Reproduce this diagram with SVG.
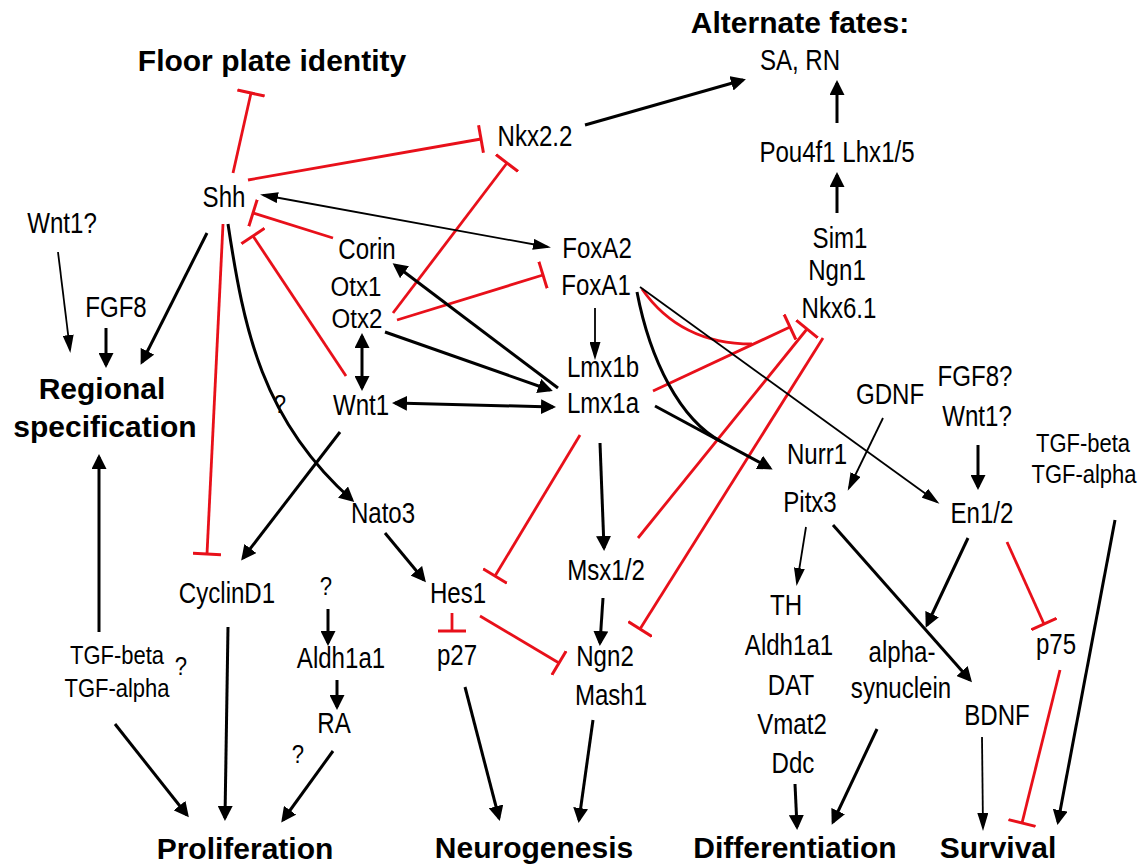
<svg xmlns="http://www.w3.org/2000/svg" width="1143" height="865" viewBox="0 0 1143 865">
<defs>
<style>
.t{font-family:"Liberation Sans",Arial,sans-serif;font-size:29.5px;text-anchor:middle;fill:#000}
.s{font-size:26px}
.o{font-size:28px}
.b{font-family:"Liberation Sans",Arial,sans-serif;font-size:30px;font-weight:bold;text-anchor:middle;fill:#000}
.k{fill:none;stroke:#000;stroke-width:3;marker-end:url(#ah)}
.kd{marker-start:url(#ah)}
.kn{fill:none;stroke:#000;stroke-width:3}
.n{fill:none;stroke:#000;stroke-width:1.8;marker-end:url(#as)}
.nd{marker-start:url(#as)}
.r{fill:none;stroke:#e8101a;stroke-width:2.8;marker-end:url(#tb)}
.rn{fill:none;stroke:#e8101a;stroke-width:2.8}
</style>
<marker id="ah" viewBox="0 0 15 15" refX="12" refY="7.5" markerWidth="15" markerHeight="15" markerUnits="userSpaceOnUse" orient="auto-start-reverse"><path d="M0,0 L15,7.5 L0,15 Z" fill="#000"/></marker>
<marker id="as" viewBox="0 0 18 11" refX="15" refY="5.5" markerWidth="18" markerHeight="11" markerUnits="userSpaceOnUse" orient="auto-start-reverse"><path d="M0,0 L18,5.5 L0,11 Z" fill="#000"/></marker>
<marker id="tb" viewBox="0 0 4 28" refX="2" refY="14" markerWidth="4" markerHeight="28" markerUnits="userSpaceOnUse" orient="auto"><path d="M2,0 V28" stroke="#e8101a" stroke-width="3"/></marker>
</defs>
<rect width="1143" height="865" fill="#fff"/>
<g id="connectors">
<path class="r" d="M233,173 L251,93"/>
<path class="r" d="M248,180 L481,139"/>
<path class="r" d="M333,238 L253,213"/>
<path class="r" d="M346,376 L253,236"/>
<path class="r" d="M223,224 L207,554"/>
<path class="r" d="M393,313 L507,163"/>
<path class="r" d="M397,320 L543,275"/>
<path class="r" d="M580,435 L495,576"/>
<path class="r" d="M653,391 L790,327"/>
<path class="rn" d="M642,289 C665,322 700,344 752,344"/>
<path class="r" d="M638,538 L807,329"/>
<path class="r" d="M823,338 L640,629"/>
<path class="r" d="M452,613 L452,631"/>
<path class="r" d="M480,616 L559,663"/>
<path class="r" d="M1007,542 L1044,624"/>
<path class="r" d="M1060,670 L1022,823"/>
<path class="k" d="M207,233 L142,362"/>
<path class="k" d="M228,224 C244,330 262,420 352,500"/>
<path class="k" d="M340,432 L243,558"/>
<path class="k kd" d="M362,336 L362,388"/>
<path class="k kd" d="M395,403 L553,407"/>
<path class="k" d="M385,332 L550,390"/>
<path class="k" d="M558,388 L395,265"/>
<path class="k" d="M600,443 L604,548"/>
<path class="kn" d="M637,292 C650,360 680,420 722,442"/>
<path class="k" d="M655,406 L770,468"/>
<path class="k" d="M585,125 L743,80"/>
<path class="k" d="M837,123 L837,83"/>
<path class="k" d="M837,213 L837,175"/>
<path class="k" d="M978,445 L978,487"/>
<path class="k" d="M1115,520 L1058,822"/>
<path class="k" d="M968,538 L927,625"/>
<path class="k" d="M833,525 L970,680"/>
<path class="k" d="M795,784 L797,827"/>
<path class="k" d="M877,729 L833,822"/>
<path class="k" d="M603,598 L600,643"/>
<path class="k" d="M593,720 L579,820"/>
<path class="k" d="M465,687 L499,818"/>
<path class="k" d="M385,533 L424,580"/>
<path class="k" d="M228,627 L225,818"/>
<path class="k" d="M115,724 L187,815"/>
<path class="k" d="M333,751 L283,820"/>
<path class="k" d="M328,609 L328,643"/>
<path class="k" d="M337,680 L337,707"/>
<path class="k" d="M99,632 L99,457"/>
<path class="k" d="M106,328 L106,365"/>
<path class="n nd" d="M263,195 L548,247"/>
<path class="n" d="M595,308 L595,357"/>
<path class="n" d="M640,287 L937,502"/>
<path class="n" d="M883,418 L849,488"/>
<path class="n" d="M806,527 L797,583"/>
<path class="n" d="M982,737 L983,828"/>
<path class="n" d="M58,252 L70,350"/>
</g>
<g id="floor-plate"><text class="b" x="272" y="71">Floor plate identity</text></g>
<g id="alternate-fates"><text class="b" x="800" y="33">Alternate fates:</text></g>
<g id="regional"><text class="b" x="102" y="399">Regional</text><text class="b" x="105" y="437">specification</text></g>
<g id="proliferation"><text class="b" x="245" y="859">Proliferation</text></g>
<g id="neurogenesis"><text class="b" x="534" y="858">Neurogenesis</text></g>
<g id="differentiation"><text class="b" x="795" y="858">Differentiation</text></g>
<g id="survival"><text class="b" x="998" y="858">Survival</text></g>
<g id="shh"><text class="t" transform="translate(224,207) scale(.816,1)">Shh</text></g>
<g id="wnt1q-left"><text class="t" transform="translate(62,233) scale(.816,1)">Wnt1?</text></g>
<g id="corin"><text class="t" transform="translate(367,259) scale(.816,1)">Corin</text></g>
<g id="otx"><text class="t o" transform="translate(356,296) scale(.86,1)">Otx1</text><text class="t o" transform="translate(357,328) scale(.86,1)">Otx2</text></g>
<g id="fgf8"><text class="t" transform="translate(116,317) scale(.816,1)">FGF8</text></g>
<g id="wnt1"><text class="t" transform="translate(361,415) scale(.816,1)">Wnt1</text></g>
<g id="q1"><text class="t s" transform="translate(280,413) scale(.85,1)">?</text></g>
<g id="nato3"><text class="t" transform="translate(383,523) scale(.816,1)">Nato3</text></g>
<g id="cyclind1"><text class="t" transform="translate(227,603) scale(.816,1)">CyclinD1</text></g>
<g id="q2"><text class="t s" transform="translate(326,595) scale(.85,1)">?</text></g>
<g id="aldh1a1-left"><text class="t" transform="translate(341,668) scale(.816,1)">Aldh1a1</text></g>
<g id="ra"><text class="t" transform="translate(334,733) scale(.816,1)">RA</text></g>
<g id="q3"><text class="t s" transform="translate(298,763) scale(.85,1)">?</text></g>
<g id="tgf-left"><text class="t s" transform="translate(117,664) scale(.846,1)">TGF-beta</text><text class="t s" transform="translate(117,697) scale(.846,1)">TGF-alpha</text></g>
<g id="q4"><text class="t s" transform="translate(181,675) scale(.85,1)">?</text></g>
<g id="hes1"><text class="t" transform="translate(458,603) scale(.816,1)">Hes1</text></g>
<g id="p27"><text class="t" transform="translate(457,665) scale(.816,1)">p27</text></g>
<g id="msx12"><text class="t" transform="translate(606,580) scale(.816,1)">Msx1/2</text></g>
<g id="ngn2-mash1"><text class="t" transform="translate(605,666) scale(.816,1)">Ngn2</text><text class="t" transform="translate(611,705) scale(.816,1)">Mash1</text></g>
<g id="da-markers"><text class="t" transform="translate(786,615) scale(.816,1)">TH</text><text class="t" transform="translate(789,655) scale(.816,1)">Aldh1a1</text><text class="t" transform="translate(791,695) scale(.816,1)">DAT</text><text class="t" transform="translate(792,734) scale(.816,1)">Vmat2</text><text class="t" transform="translate(793,773) scale(.816,1)">Ddc</text></g>
<g id="alpha-synuclein"><text class="t" transform="translate(902,662) scale(.816,1)">alpha-</text><text class="t" transform="translate(901,698) scale(.816,1)">synuclein</text></g>
<g id="bdnf"><text class="t" transform="translate(997,725) scale(.816,1)">BDNF</text></g>
<g id="p75"><text class="t" transform="translate(1056,654) scale(.816,1)">p75</text></g>
<g id="sim1-ngn1-nkx61"><text class="t" transform="translate(840,248) scale(.816,1)">Sim1</text><text class="t" transform="translate(837,280) scale(.816,1)">Ngn1</text><text class="t" transform="translate(839,318) scale(.816,1)">Nkx6.1</text></g>
<g id="gdnf"><text class="t" transform="translate(890,404) scale(.816,1)">GDNF</text></g>
<g id="fgf8-wnt1-right"><text class="t" transform="translate(975,386) scale(.816,1)">FGF8?</text><text class="t" transform="translate(977,426) scale(.816,1)">Wnt1?</text></g>
<g id="tgf-right"><text class="t s" transform="translate(1083,452) scale(.846,1)">TGF-beta</text><text class="t s" transform="translate(1084,483) scale(.846,1)">TGF-alpha</text></g>
<g id="en12"><text class="t" transform="translate(982,523) scale(.816,1)">En1/2</text></g>
<g id="nurr1"><text class="t" transform="translate(817,464) scale(.816,1)">Nurr1</text></g>
<g id="pitx3"><text class="t" transform="translate(810,512) scale(.816,1)">Pitx3</text></g>
<g id="foxa2"><text class="t" transform="translate(597,258) scale(.816,1)">FoxA2</text></g>
<g id="foxa1"><text class="t" transform="translate(596,295) scale(.816,1)">FoxA1</text></g>
<g id="lmx1b"><text class="t" transform="translate(603,377) scale(.816,1)">Lmx1b</text></g>
<g id="lmx1a"><text class="t" transform="translate(603,413) scale(.816,1)">Lmx1a</text></g>
<g id="sa-rn"><text class="t" transform="translate(800,70) scale(.816,1)">SA, RN</text></g>
<g id="pou4f1-lhx15"><text class="t" transform="translate(837,162) scale(.816,1)">Pou4f1 Lhx1/5</text></g>
<g id="nkx22"><text class="t" transform="translate(535,146) scale(.816,1)">Nkx2.2</text></g>
</svg>
